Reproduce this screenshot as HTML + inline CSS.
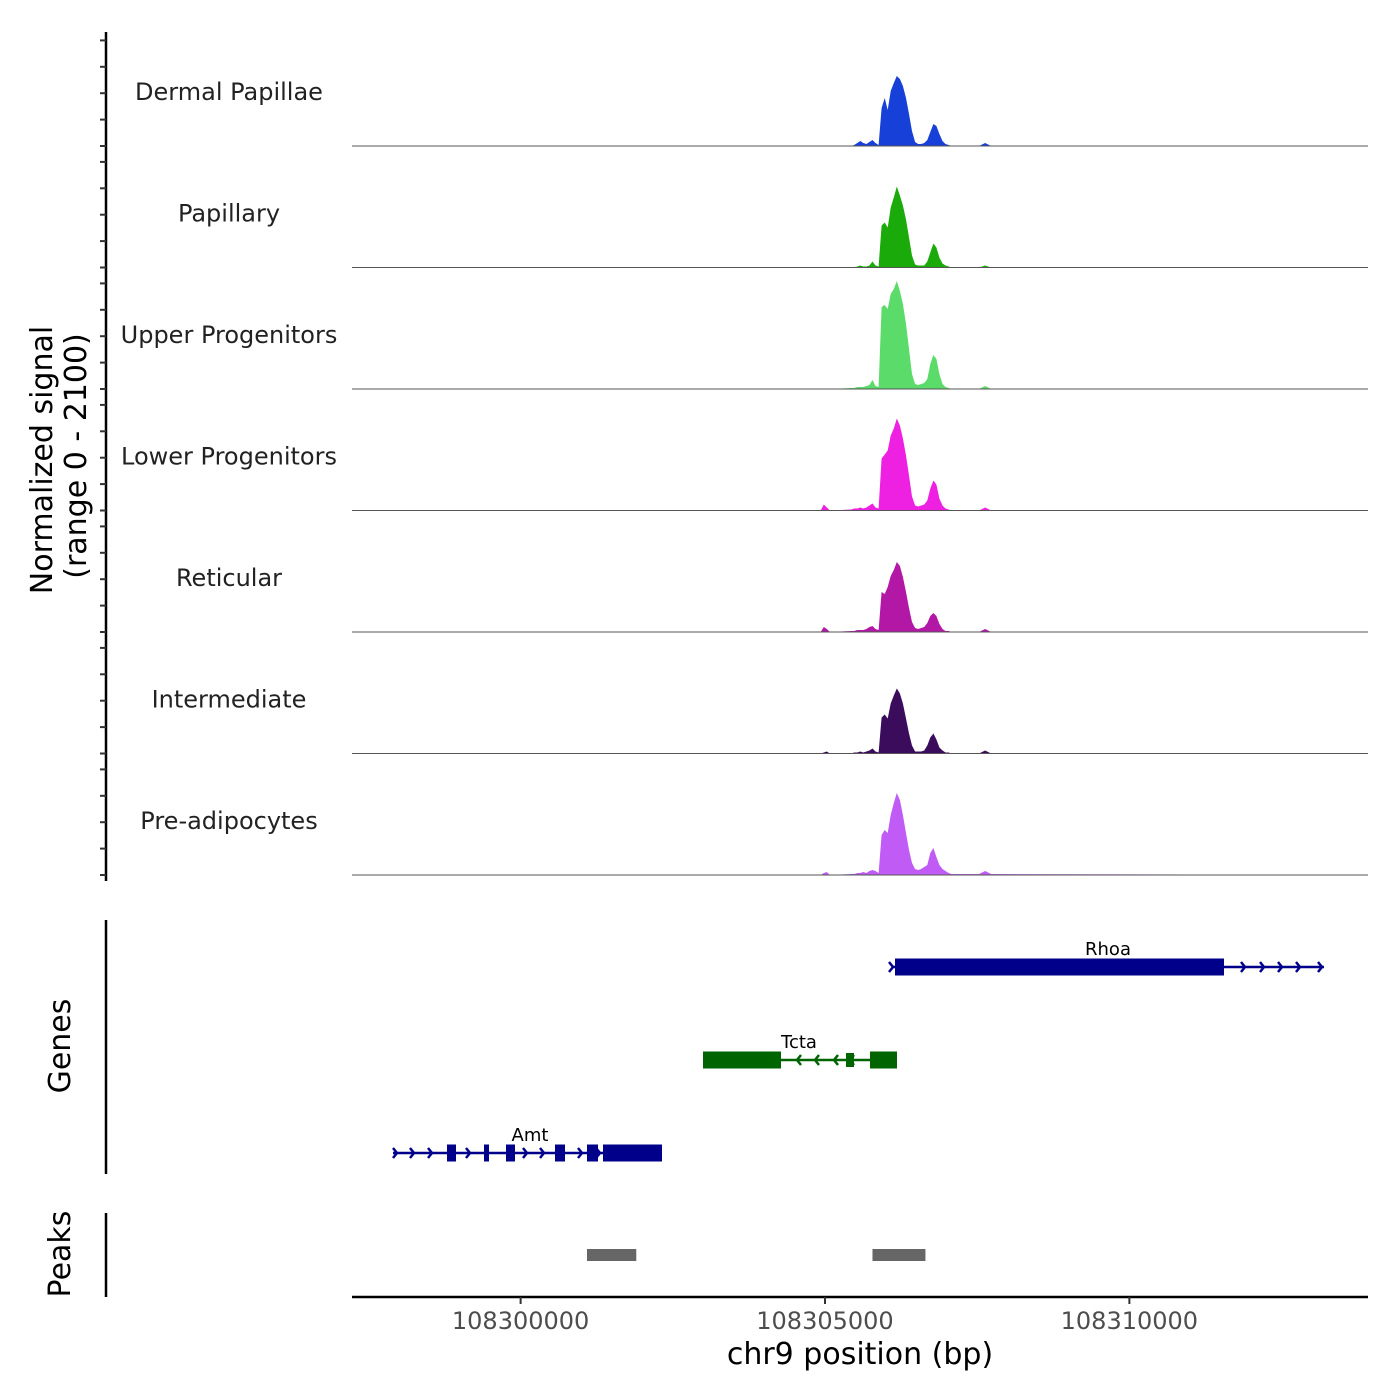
<!DOCTYPE html>
<html><head><meta charset="utf-8"><style>
html,body{margin:0;padding:0;background:#fff}
svg{display:block;font-family:"DejaVu Sans","Liberation Sans",sans-serif}
</style></head><body>
<svg id="chart" width="1400" height="1400" viewBox="0 0 1400 1400">
<g id="tracks"></g>
<g id="genes"></g>
<g id="peaks"></g>
<g id="axes"></g>
</svg>
<script>
// bin offsets (bp) relative to 108305000
const binOffsets = [-100,-50,0,50, 400,450,500,550,600,650,700,750,800,850,900,950,1000,1050,1100,1150,1200,1250,1300,1350,1400,1450,1500,1550,1600,1650,1700,1750,1800,1850,1900,1950,2000,2050, 2500,2600,2700];
const trackNames = ["Dermal Papillae","Papillary","Upper Progenitors","Lower Progenitors","Reticular","Intermediate","Pre-adipocytes"];
const trackColors = ["#1740d9","#1aab0a","#5adb6a","#ee20e2","#b217a6","#3b0b5c","#c05cf5"];
const sigDermal = [0,0,0,0, 0,1,3,5,3,2,4,6,3,1, 38,48,36,55,63,70,67,60,48,32,15,4, 2,2,3,6,14,22,20,12,5,2,1,0, 0,3,0];
const sigPapillary = [0,0,0,0, 0,0,1,2,1,1,2,6,2,1, 42,45,40,60,70,81,72,62,48,30,12,3, 2,2,2,6,15,24,20,10,4,2,1,0, 0,2,0];
const sigUpper = [0,0,0,0, 1,1,2,2,2,3,4,9,3,2, 82,84,80,95,100,108,98,85,65,40,15,5, 4,5,6,10,25,34,30,15,5,2,1,0, 0,3,0];
const sigLower = [0,6,3,0, 1,2,2,3,2,3,5,7,3,2, 52,56,60,75,82,92,85,72,55,35,14,5, 4,5,6,10,22,30,26,12,5,2,1,0, 0,3,0];
const sigReticular = [0,5,3,0, 1,1,2,2,2,3,5,6,3,2, 40,38,45,56,62,70,66,55,40,24,10,4, 3,4,5,9,16,19,16,8,3,1,1,0, 0,3,0];
const sigIntermediate = [0,1,2,0, 0,1,1,2,1,2,3,5,2,1, 36,39,35,50,58,65,60,50,35,20,8,2, 2,2,3,8,16,20,14,6,3,1,1,0, 0,3,0];
const sigPreadipo = [0,2,3,0, 1,1,2,2,3,2,4,5,4,2, 40,45,42,60,72,82,75,60,42,25,12,6, 5,6,8,10,22,27,18,10,6,4,2,1, 1,4,1];
const xTicks = [108300000,108305000,108310000];
const peakStarts = [108301090,108305780];
const peakEnds = [108301900,108306650];

const NS="http://www.w3.org/2000/svg";
const series=[sigDermal,sigPapillary,sigUpper,sigLower,sigReticular,sigIntermediate,sigPreadipo];
const xMinBp=108297230, xMaxBp=108313920;
function xScale(bp){return 352+(bp-xMinBp)/(xMaxBp-xMinBp)*(1368-352);}
const baseline0=146, trackStep=121.5, yMax=118;
function yScale(v,i){return baseline0+i*trackStep - v/yMax*118;}
function mk(tag,attrs,parent){const e=document.createElementNS(NS,tag);for(const k in attrs)e.setAttribute(k,attrs[k]);parent.appendChild(e);return e;}

const tracks=document.getElementById('tracks');
series.forEach((vals,i)=>{
  const base=yScale(0,i);
  let d=`M${xScale(xMinBp)},${base}`;
  vals.forEach((v,j)=>{d+=` L${xScale(108305000+binOffsets[j]+30).toFixed(1)},${yScale(v,i).toFixed(1)}`;});
  d+=` L${xScale(xMaxBp)},${base} Z`;
  const p=mk('path',{d:d,fill:trackColors[i]},tracks);
  
  
  const l=mk('line',{x1:352,x2:1368,y1:base,y2:base,stroke:'#555',"stroke-width":1},tracks);
  
  
  const t=mk('text',{x:229,y:base-46,"text-anchor":"middle","font-size":24,fill:'#222'},tracks);
  t.textContent=trackNames[i];
  
  
});

const axes=document.getElementById('axes');
mk('line',{x1:106,x2:106,y1:32,y2:881,stroke:'#000',"stroke-width":2.5},axes);
for(let i=0;i<7;i++){for(let k=0;k<5;k++){const y=baseline0+i*trackStep-k*26.4;
  mk('line',{x1:100,x2:106,y1:y,y2:y,stroke:'#333',"stroke-width":2},axes);}}
let yt=mk('text',{transform:'translate(52,460) rotate(-90)',"text-anchor":"middle","font-size":30,fill:'#000'},axes);
yt.textContent='Normalized signal';


let yt2=mk('text',{transform:'translate(86,456) rotate(-90)',"text-anchor":"middle","font-size":30,fill:'#000'},axes);
yt2.textContent='(range 0 - 2100)';



// genes
const genes=document.getElementById('genes');
mk('line',{x1:106,x2:106,y1:920,y2:1174,stroke:'#000',"stroke-width":2.5},genes);
let gt=mk('text',{transform:'translate(70,1046) rotate(-90)',"text-anchor":"middle","font-size":30},genes);
gt.textContent='Genes';


function chev(g,x,y,dir,col){mk('polyline',{points:`${x-4*dir},${y-5} ${x},${y} ${x-4*dir},${y+5}`,fill:'none',stroke:col,"stroke-width":2.5},g);}
function gene(name,col,y,x1,x2,exons,arrows,dir,lx){
  const g=mk('g',{},genes);
  
  
  mk('line',{x1:x1,x2:x2,y1:y,y2:y,stroke:col,"stroke-width":2.5},g);
  exons.forEach(e=>mk('rect',{x:e[0],y:y-e[2]/2,width:e[1]-e[0],height:e[2],fill:col},g));
  arrows.forEach(a=>chev(g,a,y,dir,col));
  const t=mk('text',{x:lx,y:y-12,"text-anchor":"middle","font-size":18},g);t.textContent=name;
}
gene('Rhoa','#00008b',967,893,1324,[[895,1224,17]],[893,1245,1264,1282,1300,1322],1,1108);
gene('Tcta','#006400',1060,703,897,[[703,781,17],[846,854,14],[870,897,17]],[797,815,834,850],-1,799);
gene('Amt','#00008b',1153,393,662,[[447,456,17],[484,489,17],[506,515,17],[555,565,17],[587,598,17],[603,662,17]],[397,414,432,470,527,544,582,600],1,530);

// peaks
const peaks=document.getElementById('peaks');
mk('line',{x1:106,x2:106,y1:1213,y2:1297,stroke:'#000',"stroke-width":2.5},peaks);
let pt=mk('text',{transform:'translate(70,1254) rotate(-90)',"text-anchor":"middle","font-size":30},peaks);
pt.textContent='Peaks';


peakStarts.forEach((s,i)=>{
  const r=mk('rect',{x:xScale(s),y:1249,width:xScale(peakEnds[i])-xScale(s),height:12,fill:'#666'},peaks);
  
  
});

// x axis
mk('line',{x1:352,x2:1368,y1:1297,y2:1297,stroke:'#000',"stroke-width":2.5},axes);
xTicks.forEach(v=>{const x=xScale(v);
  mk('line',{x1:x,x2:x,y1:1297,y2:1304,stroke:'#333',"stroke-width":2},axes);
  const t=mk('text',{x:x,y:1329,"text-anchor":"middle","font-size":24,fill:'#4d4d4d'},axes);
  t.textContent=String(v);
  
  
});
let xt=mk('text',{x:860,y:1364,"text-anchor":"middle","font-size":30},axes);
xt.textContent='chr9 position (bp)';


</script>
</body></html>
